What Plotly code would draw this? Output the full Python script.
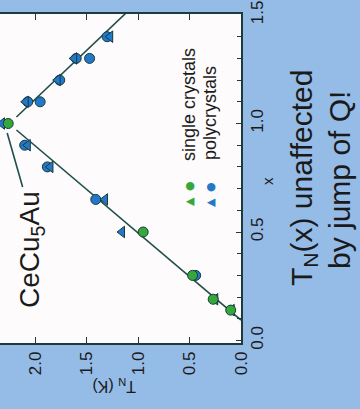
import plotly.graph_objects as go

# Neel temperature of CeCu6-xAux versus gold content x
single_x = [1.0, 0.5, 0.3, 0.19, 0.14]
single_tn = [2.26, 0.95, 0.47, 0.27, 0.10]

poly_circle_x = [1.4, 1.3, 1.3, 1.2, 1.1, 1.1, 0.9, 0.8, 0.65, 0.3]
poly_circle_tn = [1.30, 1.60, 1.47, 1.76, 1.95, 2.07, 2.10, 1.88, 1.41, 0.44]

poly_tri_x = [1.4, 1.3, 1.2, 1.1, 0.9, 0.8, 0.65, 0.5, 1.0, 0.19, 0.14]
poly_tri_tn = [1.27, 1.62, 1.78, 2.09, 2.07, 1.85, 1.32, 1.155, 2.32, 0.25, 0.09]

# guide lines (two branches meeting near x = 1)
low_branch_x = [0.094, 0.97]
low_branch_tn = [0.0, 2.18]
high_branch_x = [1.03, 1.53]
high_branch_tn = [2.18, 1.07]
leader_x = [0.956, 0.707]
leader_tn = [2.27, 2.12]

W, H = 360, 409
PLOT_L, PLOT_R, PLOT_T, PLOT_B = 0, 241, 14, 343


def px(xp):
    return xp / W


def py(yp):
    return (H - yp) / H


FONT = "Liberation Sans, Arial, Helvetica, sans-serif"
GREEN = "#35a83c"
BLUE = "#2478c9"
EDGE = "#173a3a"
LINE = "#1f4e4c"

fig = go.Figure()

for bx, bt in [(low_branch_x, low_branch_tn), (high_branch_x, high_branch_tn),
               (leader_x, leader_tn)]:
    fig.add_trace(go.Scatter(x=bt, y=bx, mode="lines",
                             line=dict(color=LINE, width=1.6),
                             hoverinfo="skip", showlegend=False))

fig.add_trace(go.Scatter(x=poly_circle_tn, y=poly_circle_x, mode="markers",
                         marker=dict(symbol="circle", size=10, color=BLUE,
                                     line=dict(color=EDGE, width=1)),
                         showlegend=False))
fig.add_trace(go.Scatter(x=poly_tri_tn, y=poly_tri_x, mode="markers",
                         marker=dict(symbol="triangle-left", size=10, color=BLUE,
                                     line=dict(color=EDGE, width=1)),
                         showlegend=False))
fig.add_trace(go.Scatter(x=single_tn, y=single_x, mode="markers",
                         marker=dict(symbol="circle", size=10, color=GREEN,
                                     line=dict(color=EDGE, width=1)),
                         showlegend=False))

annotations = [
    dict(text="CeCu<sub>5</sub>Au", x=px(31), y=py(250), size=28),
    dict(text="T<sub>N</sub>(x) unaffected", x=px(303), y=py(178), size=30),
    dict(text="by jump of Q!", x=px(339), y=py(180), size=30),
    dict(text="single crystals", x=px(189), y=py(105), size=18),
    dict(text="polycrystals", x=px(210), y=py(113), size=18),
    dict(text="x", x=px(267), y=py(181), size=15),
]
for a in annotations:
    fig.add_annotation(text=a["text"], x=a["x"], y=a["y"], xref="paper", yref="paper",
                       showarrow=False, textangle=-90, xanchor="center", yanchor="middle",
                       font=dict(family=FONT, size=a["size"], color="#1a1a1a"))

fig.add_annotation(text="T<sub>N</sub> (K)", x=px(114), y=py(386), xref="paper", yref="paper",
                   showarrow=False, textangle=180, xanchor="center", yanchor="middle",
                   font=dict(family=FONT, size=16, color="#1a1a1a"))

# legend keys
for glyph, color, xp, yp in [("●", GREEN, 189, 186), ("▲", GREEN, 189, 202),
                             ("●", BLUE, 210, 187), ("▲", BLUE, 210, 203)]:
    fig.add_annotation(text=glyph, x=px(xp), y=py(yp), xref="paper", yref="paper",
                       showarrow=False, textangle=-90, xanchor="center", yanchor="middle",
                       font=dict(family="DejaVu Sans", size=11, color=color))

fig.update_layout(
    width=W, height=H,
    margin=dict(l=0, r=0, t=0, b=0, autoexpand=False),
    paper_bgcolor="#95bbe7",
    plot_bgcolor="#fdfbfb",
    showlegend=False,
    xaxis=dict(
        domain=[px(PLOT_L), px(PLOT_R)],
        range=[(PLOT_R - PLOT_L) / 103.0, 0.0],
        automargin=False,
        tickvals=[0.0, 0.5, 1.0, 1.5, 2.0],
        ticktext=["0.0", "0.5", "1.0", "1.5", "2.0"],
        tickangle=-90,
        ticks="inside", ticklen=6, tickwidth=1.2, tickcolor="#1f3a3a",
        showline=True, linecolor="#1f3a3a", linewidth=1.6, mirror="ticks",
        showgrid=False, zeroline=False,
        tickfont=dict(family=FONT, size=17, color="#1a1a1a"),
    ),
    yaxis=dict(
        domain=[py(PLOT_B), py(PLOT_T)],
        range=[-0.0115, 1.5046],
        automargin=False,
        side="right",
        tickvals=[0.0, 0.5, 1.0, 1.5],
        ticktext=["0.0", "0.5", "1.0", "1.5"],
        tickangle=-90,
        ticks="inside", ticklen=5, tickwidth=1.2, tickcolor="#1f3a3a",
        minor=dict(dtick=0.1, ticks="inside", ticklen=4, tickwidth=1, tickcolor="#1f3a3a"),
        showline=True, linecolor="#1f3a3a", linewidth=1.6,
        showgrid=False, zeroline=False,
        tickfont=dict(family=FONT, size=17, color="#1a1a1a"),
    ),
)

fig.write_html("out.html")
